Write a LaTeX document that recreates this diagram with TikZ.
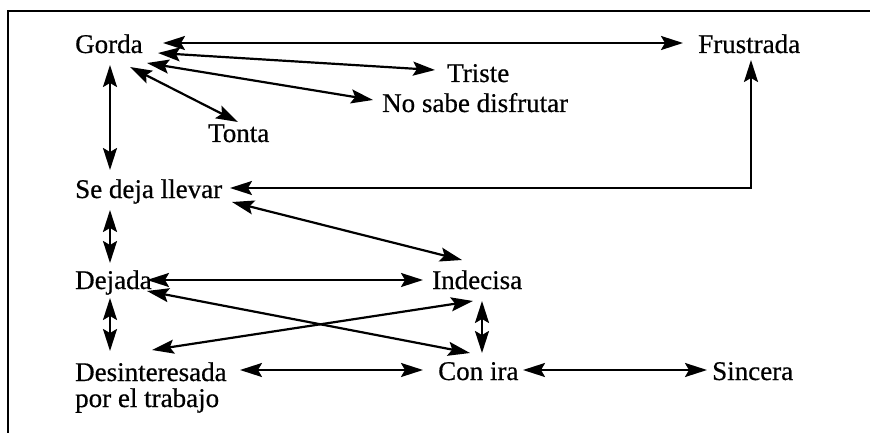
\documentclass[tikz,border=0pt]{standalone}
\usepackage{fontspec}
\setmainfont{Liberation Serif}[FakeBold=0.6]
\usetikzlibrary{arrows.meta,calc}
\tikzset{
  lbl/.style={inner sep=0pt, anchor=base west, font=\fontsize{27}{26}\selectfont},
  dbl/.style={{Stealth[length=22pt,width=14pt,inset=4pt]}-{Stealth[length=22pt,width=14pt,inset=4pt]}, line width=2.2pt},
  frame/.style={line width=2pt}
}
\begin{document}
\begin{tikzpicture}[x=1pt,y=-1pt]
\useasboundingbox (0,0) rectangle (870,433);
\coordinate (fc) at (8,11);
\coordinate (fr) at (870,11);
\coordinate (fb) at (8,433);
\draw[frame] (fr) -- (fc) -- (fb);

\node[lbl] (gorda) at (75,53) {Gorda};
\node[lbl] (frus) at (698,53) {Frustrada};
\node[lbl] (triste) at (447,82) {Triste};
\node[lbl] (nosabe) at (382,112) {No sabe disfrutar};
\node[lbl] (tonta) at (208,142) {Tonta};
\node[lbl] (sedeja) at (75,198) {Se deja llevar};
\node[lbl] (dejada) at (75,289) {Dejada};
\node[lbl] (indecisa) at (432,289) {Indecisa};
\node[lbl, align=left] (desint) at (75,407) {Desinteresada\\por el trabajo};
\node[lbl] (conira) at (438,380) {Con ira};
\node[lbl] (sincera) at (712,380) {Sincera};

\draw[dbl] ($(gorda.base west)+(88,-10)$) -- ($(frus.base west)+(-15,-10)$);
\draw[dbl] ($(gorda.base west)+(83,0)$) -- ($(triste.base west)+(-12,-12)$);
\draw[dbl] ($(gorda.base west)+(72,10)$) -- ($(nosabe.base west)+(-9,-12)$);
\draw[dbl] ($(gorda.base west)+(55,14)$) -- ($(tonta.base west)+(30,-20)$);
\draw[dbl] ($(gorda.base west)+(35,12)$) -- ($(sedeja.base west)+(35,-28)$);
\draw[dbl] ($(frus.base west)+(53,7)$) |- ($(sedeja.base west)+(155,-10)$);
\draw[dbl] ($(sedeja.base west)+(157,4)$) -- ($(indecisa.base west)+(30,-29)$);
\draw[dbl] ($(sedeja.base west)+(35,12)$) -- ($(dejada.base west)+(35,-26)$);
\draw[dbl] ($(dejada.base west)+(72,-9)$) -- ($(indecisa.base west)+(-9,-9)$);
\draw[dbl] ($(dejada.base west)+(72,2)$) -- ($(conira.base west)+(32,-27)$);
\draw[dbl] ($(desint.base west)+(77,-57)$) -- ($(indecisa.base west)+(41,12)$);
\draw[dbl] ($(dejada.base west)+(35,9)$) -- ($(desint.base west)+(35,-56)$);
\draw[dbl] ($(indecisa.base west)+(50,12)$) -- ($(conira.base west)+(44,-27)$);
\draw[dbl] ($(desint.base west)+(165,-37)$) -- ($(conira.base west)+(-15,-10)$);
\draw[dbl] ($(conira.base west)+(85,-10)$) -- ($(sincera.base west)+(-5,-10)$);
\end{tikzpicture}
\end{document}
